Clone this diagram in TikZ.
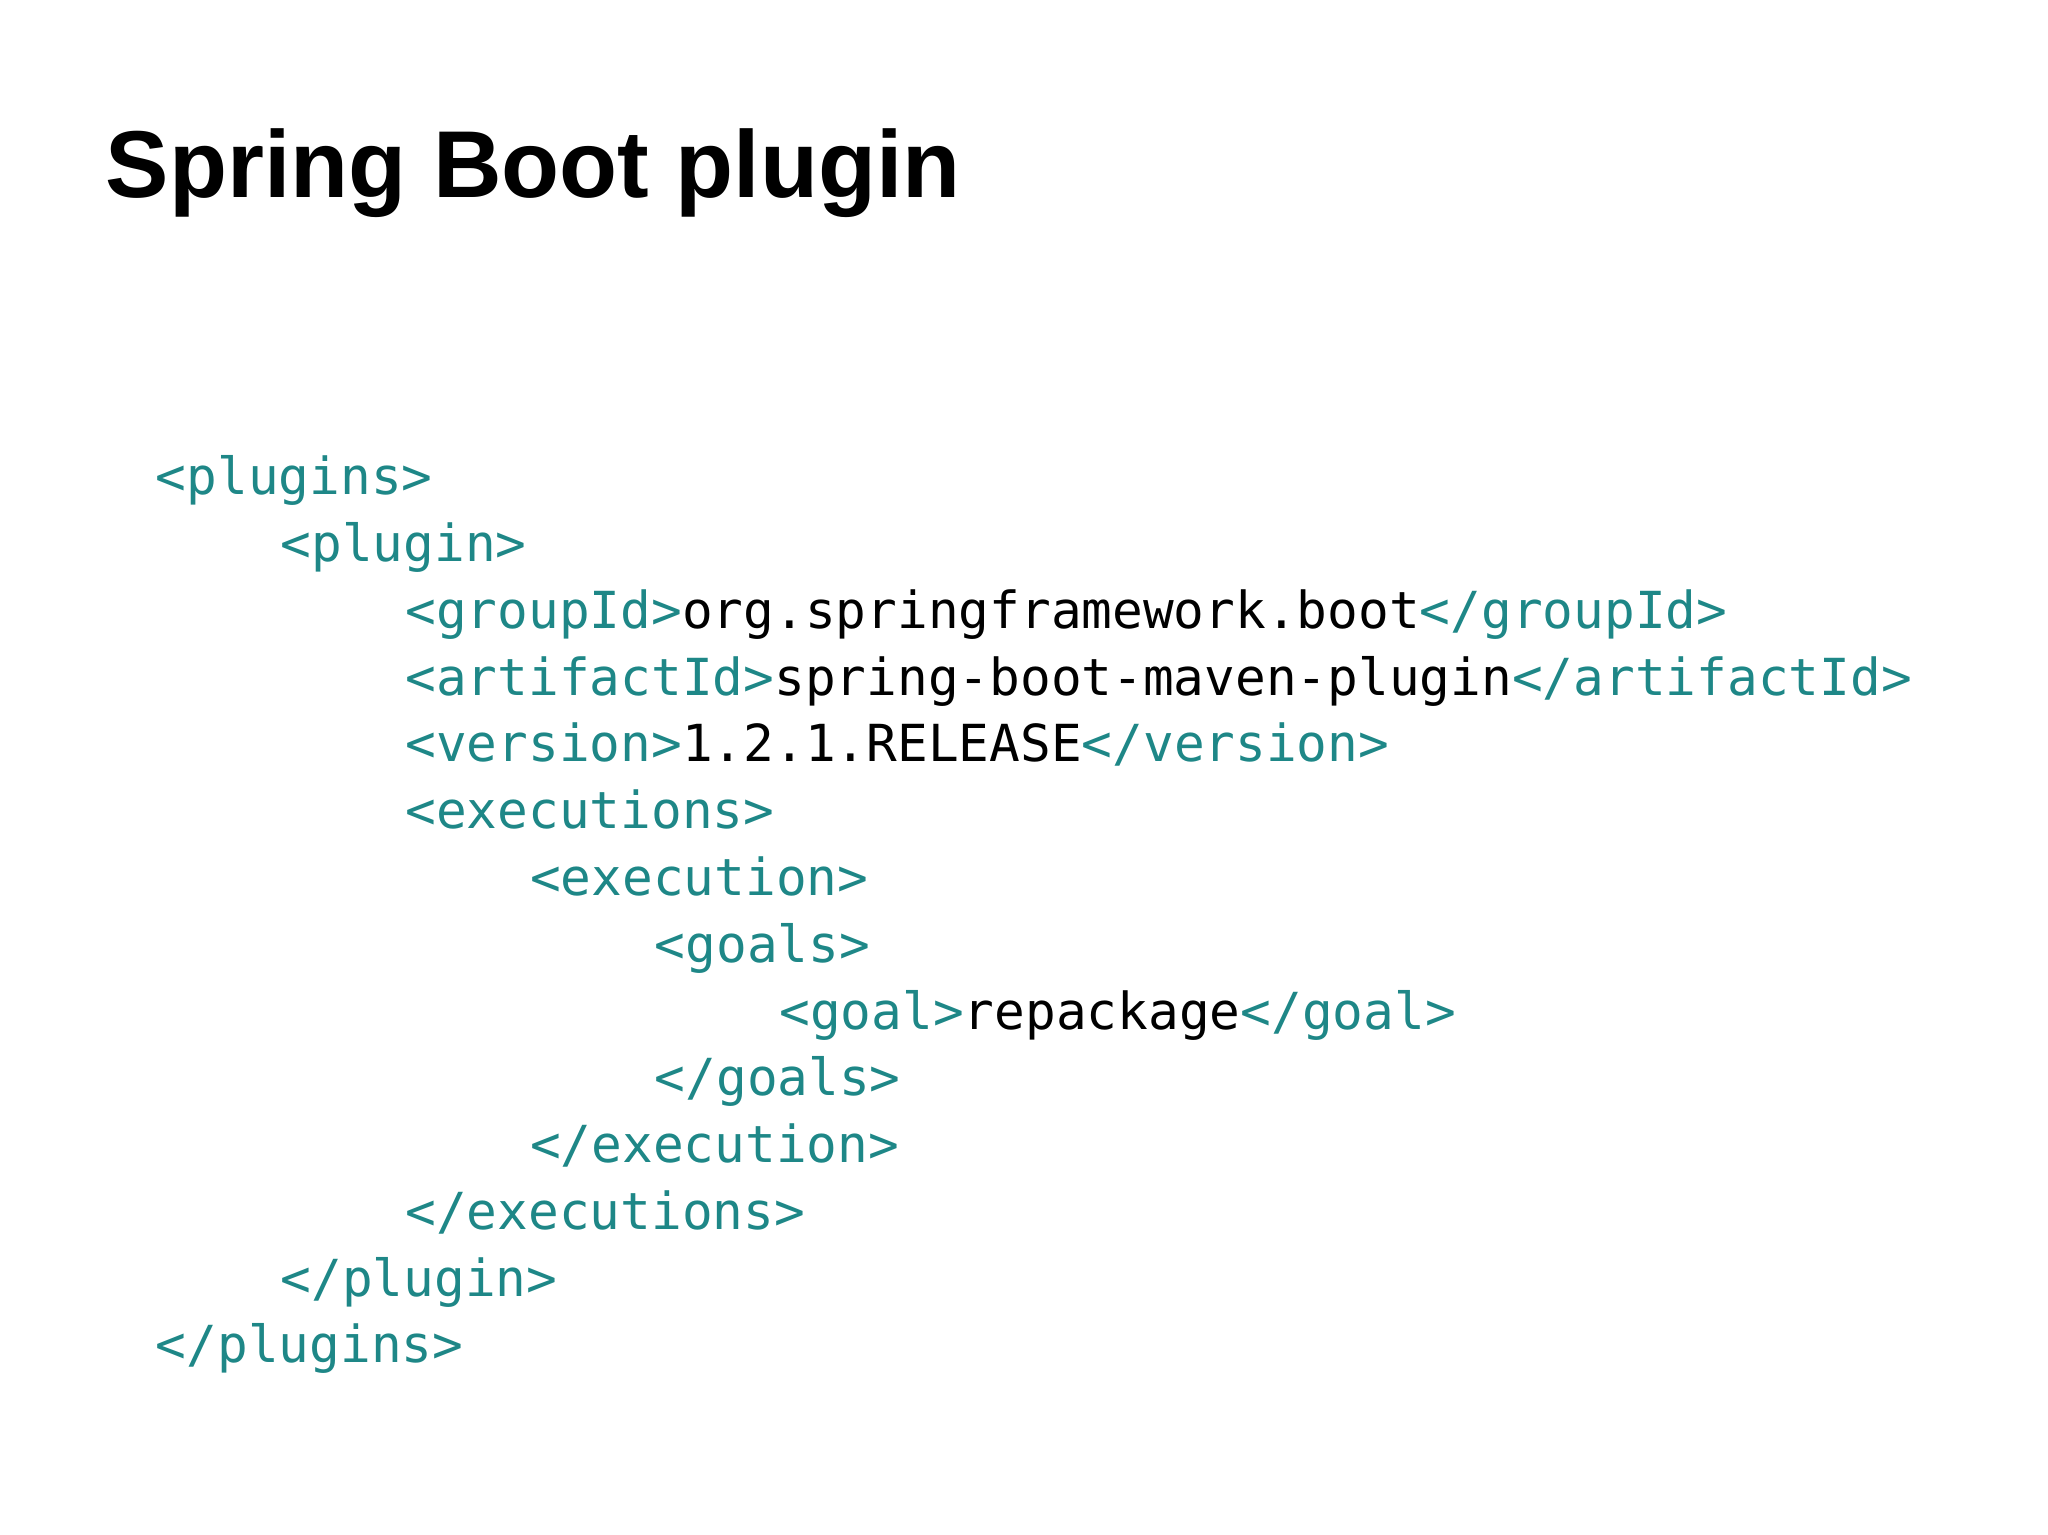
\documentclass[tikz,border=0pt]{standalone}
\usepackage{fontspec}
\setmainfont{Liberation Sans}
\setmonofont{DejaVu Sans Mono}
\definecolor{tagc}{RGB}{30,135,135}
\begin{document}
\begin{tikzpicture}[x=1pt,y=-1pt,
  code/.style={anchor=base west,inner sep=0pt,font=\fontsize{38.7}{40}\ttfamily}]
\useasboundingbox (0,0) rectangle (1552,1163);
\node[anchor=base west,inner sep=0pt,font=\fontsize{72}{80}\bfseries] (title) at (80,150) {Spring Boot plugin};
\newcommand{\tg}[1]{\textcolor{tagc}{#1}}
\foreach \i/\ind/\txt [count=\n] in {
 0/0/{\tg{<plugins>}},
 1/1/{\tg{<plugin>}},
 2/2/{\tg{<groupId>}org.springframework.boot\tg{</groupId>}},
 3/2/{\tg{<artifactId>}spring-boot-maven-plugin\tg{</artifactId>}},
 4/2/{\tg{<version>}1.2.1.RELEASE\tg{</version>}},
 5/2/{\tg{<executions>}},
 6/3/{\tg{<execution>}},
 7/4/{\tg{<goals>}},
 8/5/{\tg{<goal>}repackage\tg{</goal>}},
 9/4/{\tg{</goals>}},
 10/3/{\tg{</execution>}},
 11/2/{\tg{</executions>}},
 12/1/{\tg{</plugin>}},
 13/0/{\tg{</plugins>}}}
 \node[code] (line\n) at (118+94.5*\ind, 375+50.6*\i) {\txt};
\end{tikzpicture}
\end{document}
